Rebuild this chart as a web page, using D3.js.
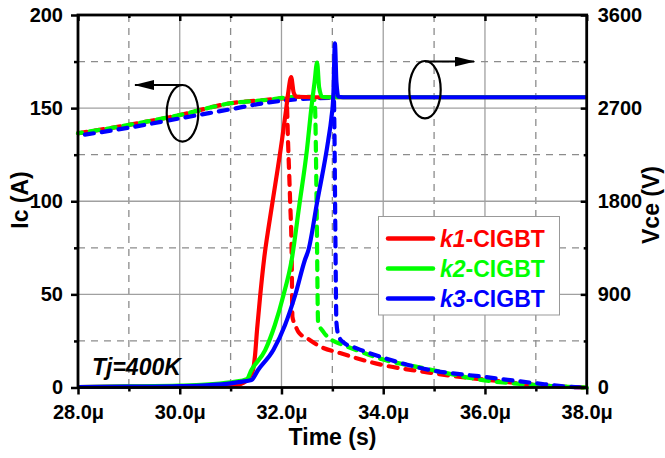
<!DOCTYPE html>
<html>
<head>
<meta charset="utf-8">
<script src="https://cdn.jsdelivr.net/npm/d3@7"></script>
<style>
  body { margin: 0; background: #fff; }
  svg text { font-family: "Liberation Sans", Arial, sans-serif; font-weight: bold; }
</style>
</head>
<body>
<svg width="665" height="458"></svg>
<script>
// Vce (solid, right axis, volts)
var k1VceTime = [28, 29, 30, 30.5, 31, 31.2, 31.3, 31.38, 31.44, 31.48, 31.52, 31.58, 31.66, 31.75, 31.83, 32.01, 32.09, 32.13, 32.19, 32.24, 32.3, 33, 34, 35, 36, 37, 38];
var k1Vce     = [5, 8, 12, 16, 22, 35, 60, 110, 170, 310, 560, 880, 1250, 1560, 1812, 2392, 2682, 2840, 3000, 2850, 2810, 2805, 2805, 2805, 2805, 2805, 2805];
var k2VceTime = [28, 29, 30, 30.5, 31, 31.2, 31.32, 31.41, 31.68, 31.87, 32.04, 32.2, 32.35, 32.5, 32.59, 32.65, 32.7, 32.74, 32.8, 33, 34, 35, 36, 37, 38];
var k2Vce     = [5, 10, 18, 28, 50, 65, 80, 169, 362, 604, 894, 1232, 1760, 2295, 2714, 2950, 3139, 2900, 2810, 2805, 2805, 2805, 2805, 2805, 2805];
var k3VceTime = [28, 29, 30, 30.5, 31, 31.2, 31.41, 31.54, 31.84, 32.07, 32.27, 32.46, 32.53, 32.7, 32.92, 32.98, 33.02, 33.05, 33.08, 33.12, 33.3, 34, 35, 36, 37, 38];
var k3Vce     = [5, 8, 14, 22, 40, 55, 72, 169, 362, 604, 894, 1232, 1329, 1790, 2392, 2600, 2826, 3326, 2950, 2810, 2805, 2805, 2805, 2805, 2805, 2805];

// Ic (dashed, left axis, amps)
var k1IcTime = [28, 29, 30, 31, 31.5, 31.7, 32, 32.1, 32.13, 32.17, 32.2, 32.215, 32.27, 32.34, 32.5, 32.76, 33.15, 34, 34.78, 35.4, 36.1, 37.02, 38];
var k1Ic     = [136.5, 141, 146.3, 152.6, 154, 154.4, 155.2, 155, 131, 100, 72, 38, 33.5, 29.5, 26.5, 22, 18.5, 12, 8.5, 6, 4, 1.3, 0];
var k2IcTime = [28, 29, 30, 31, 31.71, 32.3, 32.63, 32.66, 32.69, 32.72, 32.82, 32.99, 33.2, 33.48, 34, 34.78, 35.96, 37.02, 38];
var k2Ic     = [136.5, 141, 146.3, 152.6, 154.4, 156, 156, 150, 100, 35, 30, 25.5, 23, 20, 15, 10.5, 4, 1.3, 0];
var k3IcTime = [28, 29, 30, 31, 31.71, 32.3, 33.0, 33.03, 33.04, 33.06, 33.08, 33.12, 33.21, 33.48, 34, 34.92, 35.96, 37.0, 37.67, 38];
var k3Ic     = [135.2, 139.5, 144.5, 149.4, 152.9, 154.7, 155.5, 155, 140, 80, 35, 28, 24.4, 21, 16, 9.4, 5.8, 2.3, 0.4, 0];

var seriesNames = ["k1", "k2", "k3"];
var seriesColors = ["#ff0000", "#00ff00", "#0000ff"];

var xTicks = [28, 30, 32, 34, 36, 38];
var xMinor = [29, 31, 33, 35, 37];
var icTicks = [0, 50, 100, 150, 200];
var icMinor = [25, 75, 125, 175];
var vceTicks = [0, 900, 1800, 2700, 3600];
var vceMinor = [450, 1350, 2250, 3150];

function main() {
    var svg = d3.select("svg");
    var left = 78, right = 586.7, top = 15, bottom = 387.5;

    var xScale = d3.scaleLinear().domain([28, 38]).range([left, right]);
    var yIc = d3.scaleLinear().domain([0, 200]).range([bottom, top]);
    var yVce = d3.scaleLinear().domain([0, 3600]).range([bottom, top]);

    // grid
    var grid = svg.append("g");
    xTicks.slice(1, -1).forEach(function (t) {
        grid.append("line").attr("x1", xScale(t)).attr("x2", xScale(t)).attr("y1", top).attr("y2", bottom)
            .attr("stroke", "#a0a0a0").attr("stroke-width", 1.3);
    });
    xMinor.forEach(function (t) {
        grid.append("line").attr("x1", xScale(t)).attr("x2", xScale(t)).attr("y1", top).attr("y2", bottom)
            .attr("stroke", "#8c8c8c").attr("stroke-width", 1.3).attr("stroke-dasharray", "7,6");
    });
    icTicks.slice(1, -1).forEach(function (v) {
        grid.append("line").attr("x1", left).attr("x2", right).attr("y1", yIc(v)).attr("y2", yIc(v))
            .attr("stroke", "#a0a0a0").attr("stroke-width", 1.3);
    });
    icMinor.forEach(function (v) {
        grid.append("line").attr("x1", left).attr("x2", right).attr("y1", yIc(v)).attr("y2", yIc(v))
            .attr("stroke", "#8c8c8c").attr("stroke-width", 1.3).attr("stroke-dasharray", "7,6");
    });

    var icData = [[k1IcTime, k1Ic], [k2IcTime, k2Ic], [k3IcTime, k3Ic]];
    var vceData = [[k1VceTime, k1Vce], [k2VceTime, k2Vce], [k3VceTime, k3Vce]];

    var icLine = d3.line().x(function (d) { return xScale(d[0]); }).y(function (d) { return yIc(d[1]); })
        .curve(d3.curveMonotoneX);
    var vceLine = d3.line().x(function (d) { return xScale(d[0]); }).y(function (d) { return yVce(d[1]); })
        .curve(d3.curveMonotoneX);

    icData.forEach(function (s, i) {
        svg.append("path")
            .datum(d3.zip(s[0], s[1]))
            .attr("d", icLine)
            .attr("fill", "none")
            .attr("stroke", seriesColors[i])
            .attr("stroke-width", 4.2)
            .attr("stroke-linecap", "round")
            .attr("stroke-dasharray", "9,8")
            .attr("stroke-dashoffset", i * 5);
    });
    vceData.forEach(function (s, i) {
        svg.append("path")
            .datum(d3.zip(s[0], s[1]))
            .attr("d", vceLine)
            .attr("fill", "none")
            .attr("stroke", seriesColors[i])
            .attr("stroke-width", 4.2)
            .attr("stroke-linejoin", "round");
    });

    // axes
    var fmt = function (d) { return d.toFixed(1) + "\u03bc"; };
    function styleAxis(g, size) {
        g.select(".domain").remove();
        g.selectAll("line").attr("stroke", "#000").attr("stroke-width", 2.5);
        g.selectAll("text").attr("font-size", size).attr("fill", "#000");
    }
    svg.append("g").attr("transform", "translate(0," + bottom + ")")
        .call(d3.axisBottom(xScale).tickValues(xTicks).tickFormat(fmt).tickSize(7).tickPadding(10))
        .call(styleAxis, "20px");
    svg.append("g").attr("transform", "translate(0," + bottom + ")")
        .call(d3.axisBottom(xScale).tickValues(xMinor).tickFormat("").tickSize(4))
        .call(styleAxis, "20px");
    svg.append("g").attr("transform", "translate(0," + top + ")")
        .call(d3.axisTop(xScale).tickValues(xTicks).tickFormat("").tickSize(-6))
        .call(styleAxis, "20px");
    svg.append("g").attr("transform", "translate(0," + top + ")")
        .call(d3.axisTop(xScale).tickValues(xMinor).tickFormat("").tickSize(-3))
        .call(styleAxis, "20px");
    svg.append("g").attr("transform", "translate(" + left + ",0)")
        .call(d3.axisLeft(yIc).tickValues(icTicks).tickFormat(d3.format("d")).tickSize(7).tickPadding(8))
        .call(styleAxis, "20px");
    svg.append("g").attr("transform", "translate(" + left + ",0)")
        .call(d3.axisLeft(yIc).tickValues(icMinor).tickFormat("").tickSize(4))
        .call(styleAxis, "20px");
    svg.append("g").attr("transform", "translate(" + right + ",0)")
        .call(d3.axisRight(yVce).tickValues(vceTicks).tickFormat(d3.format("d")).tickSize(-6).tickPadding(11))
        .call(styleAxis, "20px");
    svg.append("g").attr("transform", "translate(" + right + ",0)")
        .call(d3.axisRight(yVce).tickValues(vceMinor).tickFormat("").tickSize(-3))
        .call(styleAxis, "20px");

    svg.append("rect").attr("x", left).attr("y", top).attr("width", right - left).attr("height", bottom - top)
        .attr("fill", "none").attr("stroke", "#000").attr("stroke-width", 2.8);

    // axis titles
    svg.append("text").attr("transform", "translate(20,200) rotate(-90)")
        .attr("text-anchor", "middle").attr("dominant-baseline", "central").attr("font-size", "23px")
        .text("Ic (A)");
    svg.append("text").attr("transform", "translate(651,205) rotate(-90)")
        .attr("text-anchor", "middle").attr("dominant-baseline", "central").attr("font-size", "23px")
        .text("Vce (V)");
    svg.append("text").attr("x", 332.5).attr("y", 445)
        .attr("text-anchor", "middle").attr("font-size", "23px")
        .text("Time (s)");

    svg.append("text").attr("x", 92).attr("y", 375).attr("font-size", "23px").attr("font-style", "italic")
        .text("Tj=400K");

    // annotation ellipses with arrows
    svg.append("defs").append("marker").attr("id", "head")
        .attr("viewBox", "0 0 20 10").attr("refX", 19).attr("refY", 5)
        .attr("markerWidth", 20).attr("markerHeight", 10).attr("markerUnits", "userSpaceOnUse")
        .attr("orient", "auto")
        .append("path").attr("d", "M0,0 L20,5 L0,10 Z").attr("fill", "#000");
    svg.append("ellipse").attr("cx", 182.5).attr("cy", 113.3).attr("rx", 15.8).attr("ry", 28.3)
        .attr("fill", "none").attr("stroke", "#000").attr("stroke-width", 2.2);
    svg.append("line").attr("x1", 182).attr("y1", 85).attr("x2", 135).attr("y2", 85)
        .attr("stroke", "#000").attr("stroke-width", 2.2).attr("marker-end", "url(#head)");
    svg.append("ellipse").attr("cx", 425).attr("cy", 89.7).attr("rx", 15.7).attr("ry", 28.7)
        .attr("fill", "none").attr("stroke", "#000").attr("stroke-width", 2.2);
    svg.append("line").attr("x1", 425).attr("y1", 61.5).attr("x2", 474).attr("y2", 61.5)
        .attr("stroke", "#000").attr("stroke-width", 2.2).attr("marker-end", "url(#head)");

    // legend
    var legend = svg.append("g");
    legend.append("rect").attr("x", 378.5).attr("y", 216.5).attr("width", 181).attr("height", 98.5)
        .attr("fill", "#fff").attr("stroke", "#999").attr("stroke-width", 1);
    seriesNames.forEach(function (name, i) {
        var y = 238.5 + i * 30;
        legend.append("line").attr("x1", 388).attr("x2", 433).attr("y1", y).attr("y2", y)
            .attr("stroke", seriesColors[i]).attr("stroke-width", 4.5).attr("stroke-linecap", "round");
        var t = legend.append("text").attr("x", 440).attr("y", y + 8).attr("font-size", "23px")
            .attr("fill", seriesColors[i]);
        t.append("tspan").attr("font-style", "italic").text(name);
        t.append("tspan").text("-CIGBT");
    });
}
main();
</script>
</body>
</html>
